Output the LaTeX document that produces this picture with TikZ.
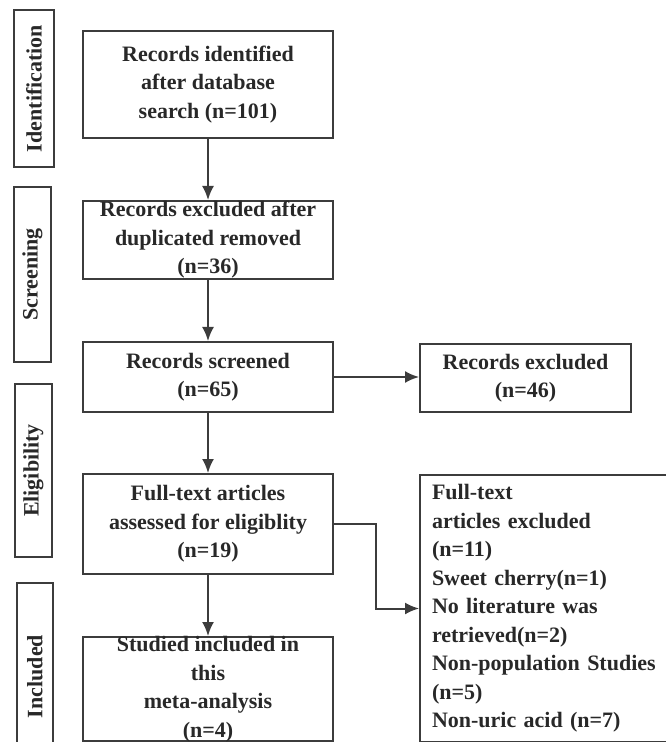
\documentclass[tikz,border=0pt]{standalone}
\usepackage{fontspec}
\setmainfont{Liberation Serif}
\usetikzlibrary{arrows.meta,positioning}
\definecolor{linegray}{RGB}{60,60,60}
\definecolor{textgray}{RGB}{40,40,40}

\begin{document}
\begin{tikzpicture}[x=0.5pt,y=-0.5pt,>={Latex[length=7pt,width=6pt]},
  every node/.style={font=\fontsize{11}{14.25}\selectfont\bfseries,text=textgray},
  box/.style={draw=linegray,line width=1pt,minimum width=125pt,inner sep=0pt,align=center},
  stage/.style={draw=linegray,line width=1pt,rotate=90,inner sep=0pt},
  flow/.style={->,draw=linegray,line width=1pt}]
\useasboundingbox (0,0) rectangle (665,742);
\node[box,minimum height=53.5pt] (b1) at (208,84.5) {Records identified\\after database\\search (n=101)};
\node[box,minimum height=39pt,inner ysep=-2pt] (b2) at (208,240) {Records excluded after\\duplicated removed\\(n=36)};
\node[box,minimum height=35pt] (b3) at (208,377) {Records screened\\(n=65)};
\node[box,minimum height=50pt] (b4) at (208,524) {Full-text articles\\assessed for eligiblity\\(n=19)};
\node[box,minimum height=52pt,inner ysep=-2.5pt] (b5) at (208,689) {Studied included in\\this\\meta-analysis\\(n=4)};
\node[box,minimum width=105.5pt,minimum height=34pt] (x1) at (525.5,378) {Records excluded\\(n=46)};
\node[box,minimum height=133.5pt,inner xsep=6pt,text width=128.5pt,align=left,anchor=north west] (x2) at (419,474)
  {Full-text\\articles excluded\\(n=11)\\Sweet cherry(n=1)\\No literature was\\retrieved(n=2)\\Non-population Studies\\(n=5)\\Non-uric acid (n=7)};
% stages on the left
\node[stage,minimum width=78.5pt,minimum height=20pt] (sid) at (34,88.5) {Identification};
\node[stage,minimum width=87.5pt,minimum height=18.5pt] (sscr) at (32.5,274.5) {Screening};
\node[stage,minimum width=86.5pt,minimum height=18.5pt] (selig) at (33.5,470.5) {Eligibility};
\node[stage,minimum width=93.5pt,minimum height=18pt] (sinc) at (35,676.5) {Included};
\draw[flow] (b1)--(b2);\draw[flow] (b2)--(b3);\draw[flow] (b3)--(b4);\draw[flow] (b4)--(b5);
\draw[flow] (b3.east)--(x1.west |- b3.east);
\draw[flow] (b4.east) -- ++(42,0) |- (x2.west);
\end{tikzpicture}
\end{document}
